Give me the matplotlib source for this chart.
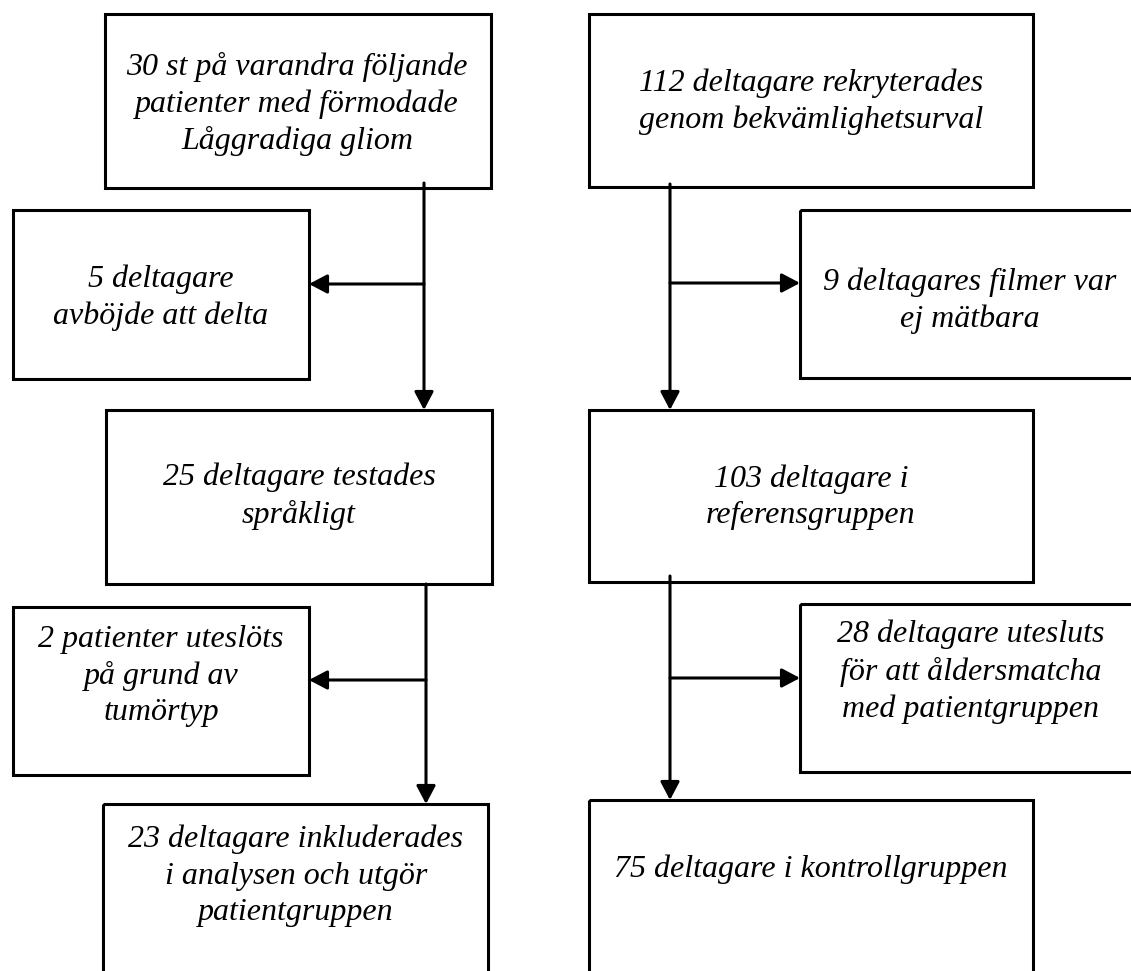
import matplotlib
matplotlib.use("Agg")
import matplotlib.pyplot as plt
from matplotlib.patches import Rectangle

W, H = 1131, 971

# Flowchart content
labels = [
    "30 st på varandra följande\npatienter med förmodade\nLåggradiga gliom",
    "5 deltagare\navböjde att delta",
    "25 deltagare testades\nspråkligt",
    "2 patienter uteslöts\npå grund av\ntumörtyp",
    "23 deltagare inkluderades\ni analysen och utgör\npatientgruppen",
    "112 deltagare rekryterades\ngenom bekvämlighetsurval",
    "9 deltagares filmer var\nej mätbara",
    "103 deltagare i\nreferensgruppen",
    "28 deltagare utesluts\nför att åldersmatcha\nmed patientgruppen",
    "75 deltagare i kontrollgruppen",
]
# box geometry (pixels): left, top, right, bottom
box_left = [105, 13, 106, 13, 103, 589, 800, 589, 800, 589]
box_top = [14, 210, 410, 607, 804, 14, 210, 410, 604, 800]
box_right = [491, 309, 492, 309, 488, 1033, 1140, 1033, 1140, 1033]
box_bottom = [188, 379, 584, 775, 990, 187, 378, 582, 772, 990]
# text centre (pixels)
text_x = [297, 161, 299, 161, 296, 811, 970, 811, 971, 811]
text_y = [104, 298, 496, 676, 876, 102, 301, 497, 672, 869]

# connectors: (x0, y0) -> (x1, y1)
arrow_x0 = [424, 424, 426, 426, 670, 670, 670, 670]
arrow_y0 = [183, 284, 584, 680, 184, 283, 576, 678]
arrow_x1 = [424, 309, 426, 309, 670, 800, 670, 800]
arrow_y1 = [410, 284, 804, 680, 410, 283, 800, 678]

fig = plt.figure(figsize=(W / 100, H / 100), dpi=100)
ax = fig.add_axes([0, 0, 1, 1])
ax.set_xlim(0, W)
ax.set_ylim(H, 0)
ax.axis("off")

LW = 2.2
for l, t, r, b, s, tx, ty in zip(box_left, box_top, box_right, box_bottom, labels, text_x, text_y):
    ax.add_patch(Rectangle((l, t), r - l, b - t, fill=False, edgecolor="black",
                           linewidth=LW, joinstyle="miter", clip_on=False))
    ax.text(tx, ty, s, ha="center", va="center", multialignment="center",
            fontsize=23, fontstyle="italic", family="Liberation Serif",
            linespacing=1.33)

for x0, y0, x1, y1 in zip(arrow_x0, arrow_y0, arrow_x1, arrow_y1):
    ax.annotate("", xy=(x1, y1), xytext=(x0, y0),
                arrowprops=dict(arrowstyle="-|>,head_length=11,head_width=5.8",
                                mutation_scale=1, color="black", lw=LW,
                                shrinkA=0, shrinkB=0))

fig.savefig("out.png", dpi=100, facecolor="white")
